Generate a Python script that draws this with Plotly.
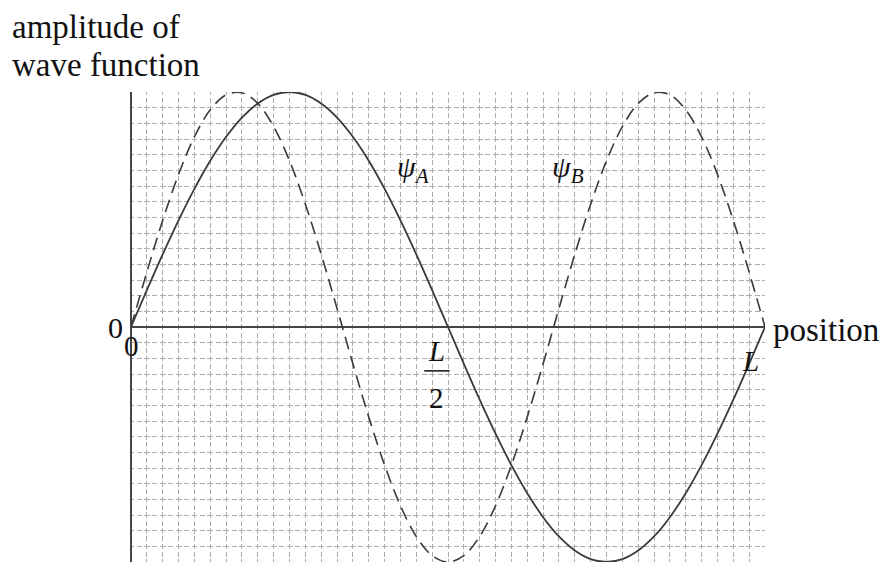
import plotly.graph_objects as go

# Position along the well, in grid squares (40 squares = L)
position = list(range(41))

# Wave-function amplitudes in grid squares (15 squares = full amplitude)
psi_a = [0, 2.35, 4.64, 6.81, 8.82, 10.61, 12.14, 13.37, 14.27, 14.82, 15,
         14.82, 14.27, 13.37, 12.14, 10.61, 8.82, 6.81, 4.64, 2.35, 0,
         -2.35, -4.64, -6.81, -8.82, -10.61, -12.14, -13.37, -14.27, -14.82, -15,
         -14.82, -14.27, -13.37, -12.14, -10.61, -8.82, -6.81, -4.64, -2.35, 0]
psi_b = [0, 3.50, 6.81, 9.74, 12.14, 13.86, 14.82, 14.95, 14.27, 12.79, 10.61,
         7.84, 4.64, 1.18, -2.35, -5.74, -8.82, -11.41, -13.37, -14.59, -15,
         -14.59, -13.37, -11.41, -8.82, -5.74, -2.35, 1.18, 4.64, 7.84, 10.61,
         12.79, 14.27, 14.95, 14.82, 13.86, 12.14, 9.74, 6.81, 3.50, 0]

curve_color = "#3a3a3a"
grid_color = "#adadad"
serif = "Liberation Serif, Times New Roman, serif"

fig = go.Figure()
fig.add_trace(go.Scatter(x=position, y=psi_b, mode="lines", line_shape="spline",
                         line=dict(color=curve_color, width=1.6, dash="13px,7px"),
                         hoverinfo="skip"))
fig.add_trace(go.Scatter(x=position, y=psi_a, mode="lines", line_shape="spline",
                         line=dict(color=curve_color, width=1.8),
                         hoverinfo="skip"))

fig.update_xaxes(range=[0, 40], dtick=1, tick0=0, showticklabels=False, ticks="",
                 showgrid=True, gridcolor=grid_color, gridwidth=1,
                 griddash="3px,2.5px,5px,2.5px,2.67px,0px",
                 zeroline=True, zerolinecolor="#444", zerolinewidth=2,
                 showline=False, fixedrange=True)
fig.update_yaxes(range=[-15, 15], dtick=1, tick0=0, showticklabels=False, ticks="",
                 showgrid=True, gridcolor=grid_color, gridwidth=1,
                 griddash="3px,2.5px,5px,2.5px,2.85px,0px",
                 zeroline=True, zerolinecolor="#444", zerolinewidth=2,
                 showline=False, fixedrange=True)

def label(text, x, y, size=30, xref="x", yref="y", xanchor="center", yanchor="middle"):
    fig.add_annotation(text=text, x=x, y=y, xref=xref, yref=yref, showarrow=False,
                       xanchor=xanchor, yanchor=yanchor,
                       font=dict(family=serif, size=size, color="#111"))

# Axis titles (paper coordinates, outside the grid)
label("amplitude of", -0.191, 1.138, size=33, xref="paper", yref="paper", xanchor="left")
label("wave function", -0.191, 1.057, size=33, xref="paper", yref="paper", xanchor="left")
label("position", 1.010, 0.494, size=33, xref="paper", yref="paper", xanchor="left")
label("0", -0.025, 0.499, size=30, xref="paper", yref="paper")

# Origin and position marks
label("0", 0, -1.2, size=29)
label("<i>L</i>", 19.3, -1.5, size=29)
label("2", 19.3, -4.5, size=29)
label("<i>L</i>", 39.1, -2.2, size=29)

# Curve names
label("<i>ψ</i><sub><i>A</i></sub>", 17.8, 10.1, size=30)
label("<i>ψ</i><sub><i>B</i></sub>", 27.6, 10.1, size=30)

# Fraction bar for L/2
fig.add_shape(type="line", x0=18.5, x1=20.1, y0=-2.8, y1=-2.8,
              line=dict(color="#111", width=1.5))

fig.update_layout(width=883, height=563, margin=dict(l=131, r=118, t=92, b=1),
                  paper_bgcolor="white", plot_bgcolor="white", showlegend=False)

fig.write_html("out.html")
